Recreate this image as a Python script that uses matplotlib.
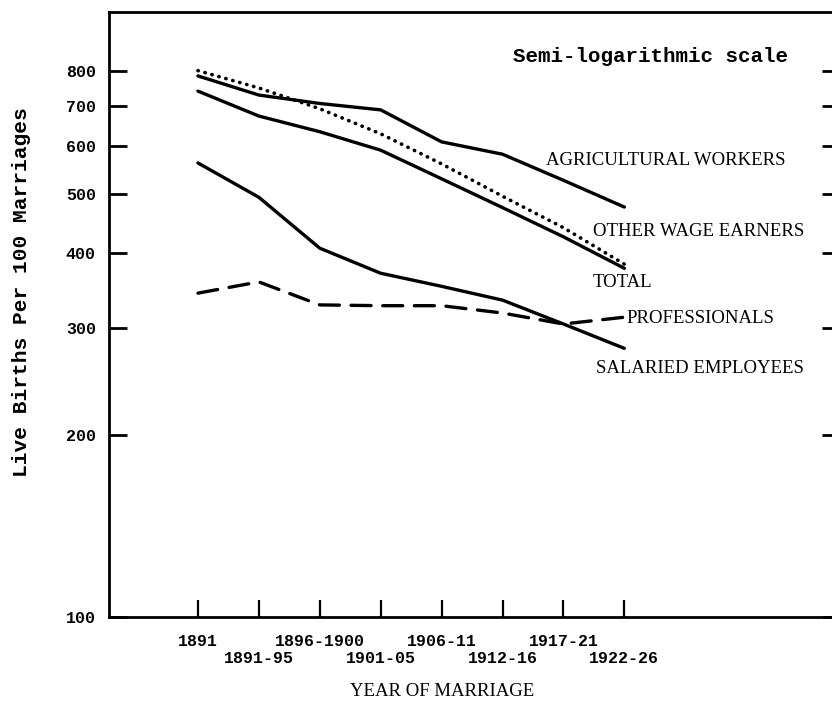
import matplotlib
matplotlib.use("Agg")
import matplotlib.pyplot as plt
from matplotlib.ticker import FixedLocator, NullLocator, FixedFormatter

periods = ["1891", "1891-95", "1896-1900", "1901-05", "1906-11", "1912-16", "1917-21", "1922-26"]
agricultural = [784, 729, 706, 689, 610, 582, 527, 476]
other_wage = [740, 673, 634, 591, 530, 475, 425, 377]
total = [800, 749, 692, 629, 561, 496, 440, 383]
salaried = [563, 494, 407, 370, 352, 334, 305, 278]
professionals = [343, 358, 328, 327, 327, 318, 305, 313]
yticks = [100, 200, 300, 400, 500, 600, 700, 800]

MONO = ["Liberation Mono", "DejaVu Sans Mono"]
SERIF = ["Liberation Serif", "DejaVu Serif"]

fig = plt.figure(figsize=(8.32, 7.03), dpi=100)
ax = fig.add_axes([109/832, 86/703, (840-109)/832, (617-12)/703])

x = list(range(len(periods)))
lw = 2.4
ax.plot(x, agricultural, color="black", lw=lw, solid_capstyle="round")
ax.plot(x, other_wage, color="black", lw=lw, solid_capstyle="round")
ax.plot(x, total, color="black", lw=2.6, linestyle=(0, (0.1, 1.9)), dash_capstyle="round")
ax.plot(x, salaried, color="black", lw=lw, solid_capstyle="round")
ax.plot(x, professionals, color="black", lw=lw, linestyle=(0, (6, 3.5)), dash_capstyle="round")

ax.set_yscale("log")
ax.set_ylim(100, 1000)
ax.set_xlim(-1.46, 10.54)

ax.yaxis.set_major_locator(FixedLocator(yticks))
ax.yaxis.set_major_formatter(FixedFormatter([str(v) for v in yticks]))
ax.yaxis.set_minor_locator(NullLocator())
ax.set_xticks(x)
ax.set_xticklabels([])

for s in ax.spines.values():
    s.set_linewidth(2.0)
ax.spines["right"].set_visible(False)

ax.tick_params(axis="y", which="major", direction="in", length=13, width=2.0,
               right=True, left=True, pad=9.5)
ax.tick_params(axis="x", which="major", direction="in", length=12, width=1.6)
for lab in ax.get_yticklabels():
    lab.set_fontfamily(MONO)
    lab.set_fontweight("bold")
    lab.set_fontsize(12)

# two-row x tick labels
for i, p in enumerate(periods):
    off = -17.3 if i % 2 == 0 else -30.2
    ax.annotate(p, xy=(i, 0), xycoords=("data", "axes fraction"),
                xytext=(0, off), textcoords="offset points",
                ha="center", va="center", fontfamily=MONO, fontweight="bold",
                fontsize=12)

fig.text(22/832, 1 - 292/703, "Live Births Per 100 Marriages", rotation=90,
         fontfamily=MONO, fontweight="bold", fontsize=15.3, ha="center", va="center")
fig.text(442/832, 1 - 692/703, "YEAR OF MARRIAGE", fontfamily=SERIF, fontsize=13.5,
         ha="center", va="center")

lab_kw = dict(fontfamily=SERIF, fontsize=13.5, va="center", ha="left")
ax.text(5.71, 569, "AGRICULTURAL WORKERS", **lab_kw)
ax.text(6.48, 433, "OTHER WAGE EARNERS", **lab_kw)
ax.text(6.48, 357, "TOTAL", **lab_kw)
ax.text(7.04, 311, "PROFESSIONALS", **lab_kw)
ax.text(6.53, 257, "SALARIED EMPLOYEES", **lab_kw)
ax.text(9.69, 827, "Semi-logarithmic scale", fontfamily=MONO, fontweight="bold",
        fontsize=15, va="baseline", ha="right")

fig.savefig("out.png", dpi=100)
